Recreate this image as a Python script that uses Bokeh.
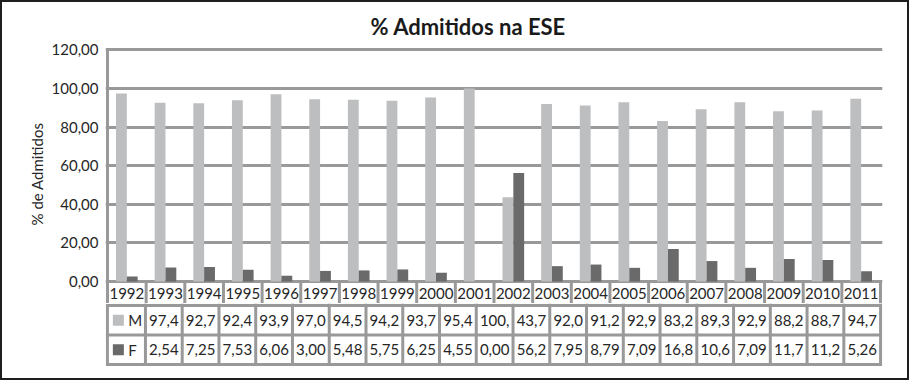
from bokeh.plotting import figure
from bokeh.models import Range1d, FixedTicker, ColumnDataSource
from bokeh.layouts import column
from bokeh.embed import file_html
from bokeh.resources import INLINE
from bokeh.core.properties import value
from bokeh.transform import dodge

# ---------------- data ----------------
years = ["1992", "1993", "1994", "1995", "1996", "1997", "1998", "1999", "2000", "2001",
         "2002", "2003", "2004", "2005", "2006", "2007", "2008", "2009", "2010", "2011"]
m_vals = [97.4, 92.7, 92.4, 93.9, 97.0, 94.5, 94.2, 93.7, 95.4, 100.0,
          43.7, 92.0, 91.2, 92.9, 83.2, 89.3, 92.9, 88.2, 88.7, 94.7]
f_vals = [2.54, 7.25, 7.53, 6.06, 3.00, 5.48, 5.75, 6.25, 4.55, 0.00,
          56.2, 7.95, 8.79, 7.09, 16.8, 10.6, 7.09, 11.7, 11.2, 5.26]
series_names = ["M", "F"]
y_ticks = [0, 20, 40, 60, 80, 100, 120]
y_tick_labels = ["0,00", "20,00", "40,00", "60,00", "80,00", "100,00", "120,00"]
title_text = "% Admitidos na ESE"
y_label = "% de Admitidos"

# ---------------- style ----------------
M_COLOR = "#bdbec0"
F_COLOR = "#6a6a6a"
LINE_COLOR = "#999999"
TEXT_COLOR = "#262626"
FONT = "Lato"

def fmt(v):
    return f"{v:.2f}".replace(".", ",")[:4]

n = len(years)
xs = [i + 0.5 for i in range(n)]
src = ColumnDataSource(dict(x=xs, year=years, m=m_vals, f=f_vals,
                            m_lab=[fmt(v) for v in m_vals],
                            f_lab=[fmt(v) for v in f_vals]))

# ---------------- chart (with year row) ----------------
Y_START = -11.40
Y_END = 122.85
pa = figure(width=905, height=301, output_backend="svg", toolbar_location=None,
            x_range=Range1d(-0.052, 20.052), y_range=Range1d(Y_START, Y_END),
            min_border_left=103, min_border_right=25, min_border_top=42, min_border_bottom=0)
pa.outline_line_color = None
pa.xaxis.visible = False
pa.xgrid.visible = False
pa.ygrid.ticker = FixedTicker(ticks=y_ticks)
pa.ygrid.grid_line_color = LINE_COLOR
pa.ygrid.grid_line_width = 3
pa.ygrid.bounds = (0, n)

ax = pa.yaxis[0]
ax.ticker = FixedTicker(ticks=y_ticks)
ax.major_label_overrides = dict(zip(y_ticks, y_tick_labels))
ax.axis_line_color = None
ax.major_tick_line_color = None
ax.minor_tick_line_color = None
ax.major_tick_out = 0
ax.major_tick_in = 0
ax.major_label_standoff = 7
ax.major_label_text_font = FONT
ax.major_label_text_font_size = "15px"
ax.major_label_text_color = TEXT_COLOR
ax.axis_label = y_label
ax.axis_label_text_font = FONT
ax.axis_label_text_font_size = "15px"
ax.axis_label_text_font_style = "normal"
ax.axis_label_text_color = TEXT_COLOR
ax.axis_label_standoff = 3

pa.title.text = title_text
pa.title.text_font = FONT
pa.title.text_font_size = "22px"
pa.title.text_font_style = "bold"
pa.title.text_color = "#1a1a1a"
pa.title.align = "left"
pa.title.offset = 265

pa.vbar(x=dodge("x", -0.14), top="m", width=0.28, source=src,
        fill_color=M_COLOR, line_color=None)
pa.vbar(x=dodge("x", 0.14), top="f", width=0.28, source=src,
        fill_color=F_COLOR, line_color=None)

# axis line / year row vertical lines
pa.segment(x0=[0], y0=[Y_START], x1=[0], y1=[y_ticks[-1]],
           line_color=LINE_COLOR, line_width=3)
pa.segment(x0=list(range(1, n + 1)), y0=[0] * n, x1=list(range(1, n + 1)), y1=[Y_START] * n,
           line_color=LINE_COLOR, line_width=3)
pa.text(x="x", y=-6.35, text="year", source=src, text_align="center", text_baseline="middle",
        text_font=value(FONT), text_font_size="15px", text_color=TEXT_COLOR)

# ---------------- table rows M / F ----------------
LEG_X = -1.035
pb = figure(width=905, height=75, output_backend="svg", toolbar_location=None,
            x_range=Range1d(-1.087, 20.052), y_range=Range1d(2.068, -0.068),
            min_border_left=63, min_border_right=25, min_border_top=0, min_border_bottom=12)
pb.outline_line_color = None
pb.axis.visible = False
pb.grid.visible = False

pb.segment(x0=[LEG_X] * 3, y0=[0, 1, 2], x1=[n] * 3, y1=[0, 1, 2],
           line_color=LINE_COLOR, line_width=3, line_cap="square")
pb.segment(x0=list(range(n + 1)), y0=[-0.068] * (n + 1), x1=list(range(n + 1)), y1=[2] * (n + 1),
           line_color=LINE_COLOR, line_width=3)
pb.segment(x0=[LEG_X], y0=[0], x1=[LEG_X], y1=[2], line_color=LINE_COLOR, line_width=3)

pb.scatter(x=[-0.737, -0.737], y=[0.5, 1.5], marker="square", size=11,
           fill_color=[M_COLOR, F_COLOR], line_color=None)
pb.text(x=[-0.466, -0.466], y=[0.5, 1.5], text=series_names, text_align="left",
        text_baseline="middle", text_font=value(FONT), text_font_size="15px", text_color=TEXT_COLOR)
pb.text(x="x", y=0.5, text="m_lab", source=src, text_align="center", text_baseline="middle",
        text_font=value(FONT), text_font_size="15px", text_color=TEXT_COLOR)
pb.text(x="x", y=1.5, text="f_lab", source=src, text_align="center", text_baseline="middle",
        text_font=value(FONT), text_font_size="15px", text_color=TEXT_COLOR)

layout = column(pa, pb, styles={"border": "2px solid #1e1e1e"})

open("out.html", "w").write(file_html(layout, INLINE))
